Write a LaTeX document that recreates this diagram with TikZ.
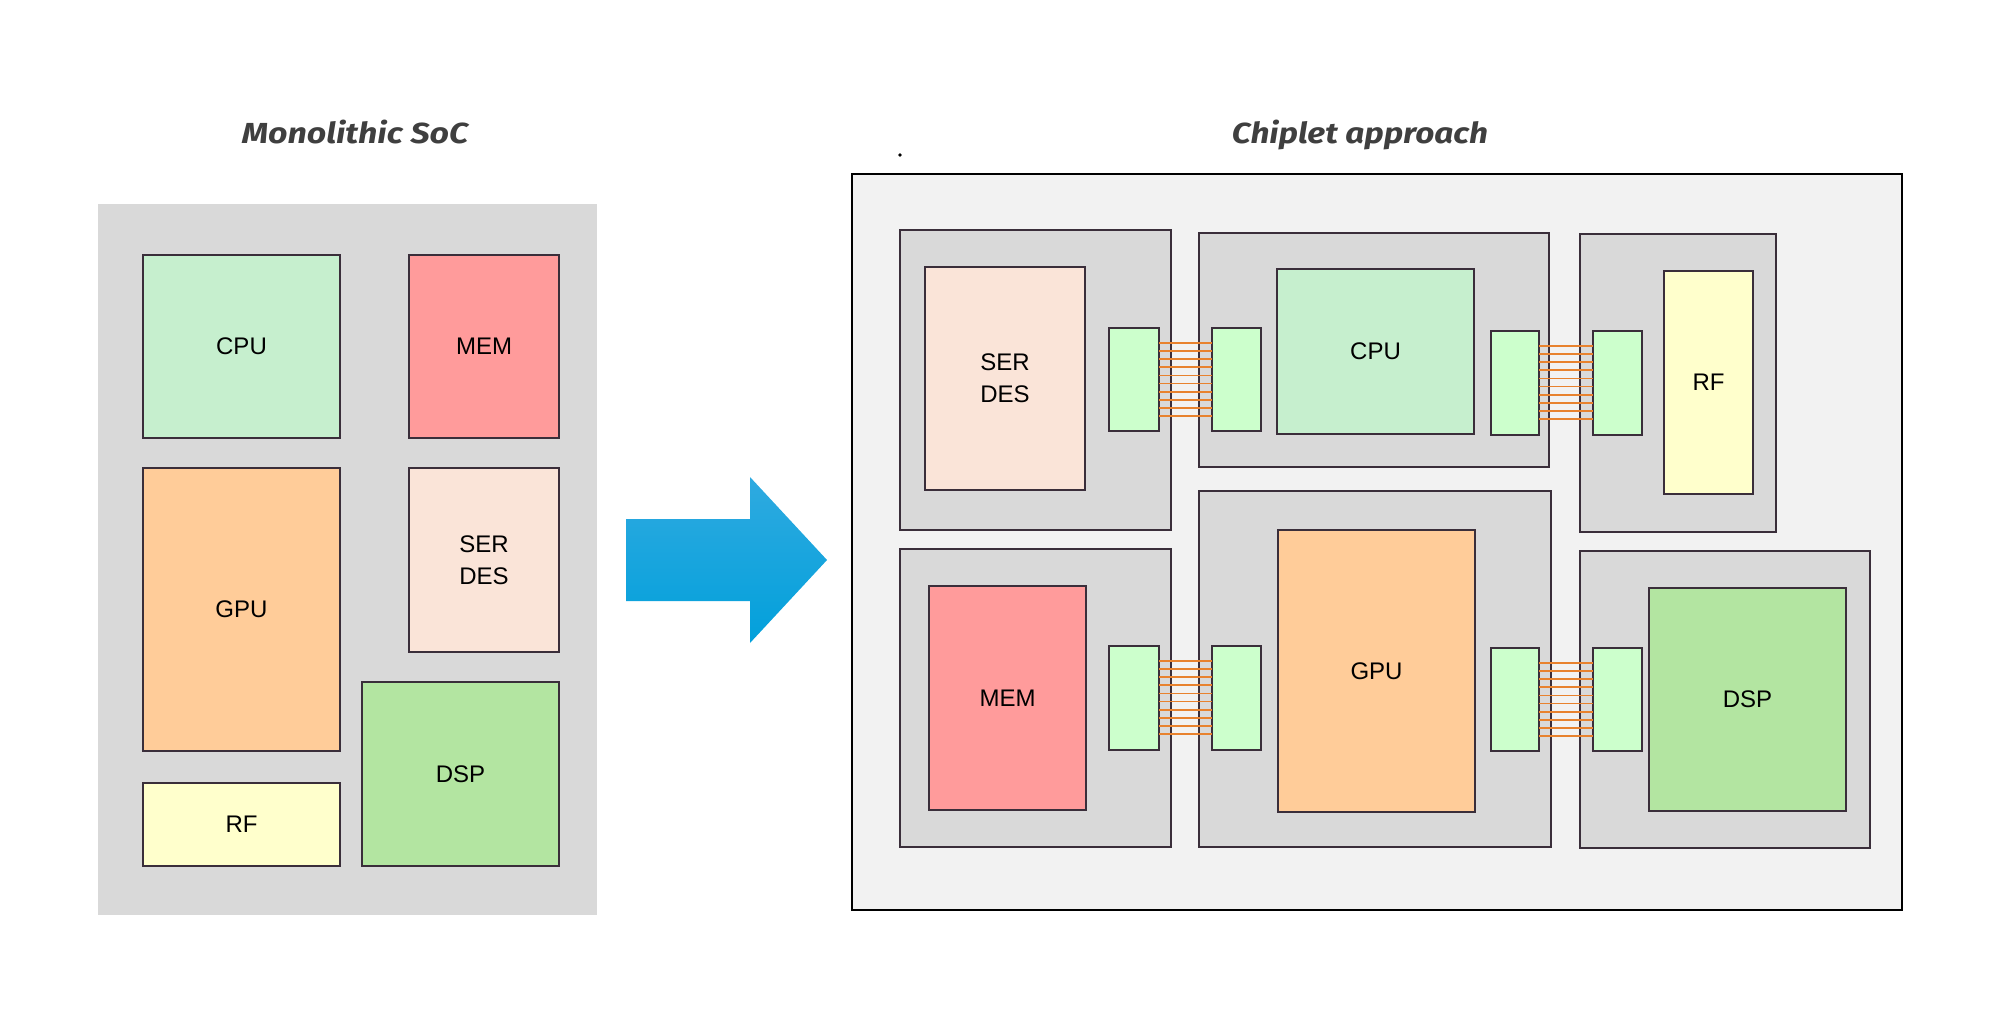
\documentclass[tikz,border=0pt]{standalone}
\usepackage{fontspec}
\setmainfont{Liberation Sans}
\newfontfamily\titlefont{Fira Sans}
\usetikzlibrary{calc}
\definecolor{bord}{HTML}{3A2E3A}
\definecolor{panelgray}{HTML}{D9D9D9}
\definecolor{panellight}{HTML}{F2F2F2}
\definecolor{cpuc}{HTML}{C6EFCE}
\definecolor{memc}{HTML}{FF9B9B}
\definecolor{gpuc}{HTML}{FFCC99}
\definecolor{serc}{HTML}{FAE4D8}
\definecolor{dspc}{HTML}{B3E5A1}
\definecolor{rfc}{HTML}{FFFFCC}
\definecolor{phyc}{HTML}{CCFFCC}
\definecolor{wirec}{HTML}{E8822E}
\definecolor{titlec}{HTML}{3F3F3F}
\definecolor{arrtop}{HTML}{2FAAE0}
\definecolor{arrbot}{HTML}{02A0DB}
\newcommand\mkbox[7]{%
  \node[#1, minimum width={(#5-#3)*1pt}, minimum height={(#6-#4)*1pt}] (#2) at (#3,#4) {#7};}
\begin{document}
\begin{tikzpicture}[x=1pt,y=-1pt,
  base/.style={inner sep=0pt, outer sep=0pt, anchor=north west, align=center,
    font=\fontsize{24}{32}\selectfont, text=black},
  blk/.style={base, draw=bord, line width=1.2pt},
  chip/.style={base, draw=bord, line width=1.2pt, fill=panelgray},
  phy/.style={base, draw=bord, line width=1.2pt, fill=phyc},
  wire/.style={draw=wirec, line width=1.8pt},
  title/.style={font=\titlefont\fontsize{29}{32}\selectfont\bfseries\itshape, text=titlec, anchor=base}]
\useasboundingbox (0,0) rectangle (1996,1011);
% titles
\node[title] (t1) at (355,144) {\scalebox{1.17}[1]{Monolithic SoC}};
\node[title] (t2) at (1360,144) {\scalebox{1.15}[1]{Chiplet approach}};
% left panel
\mkbox{base, fill=panelgray}{lp}{98}{204}{597}{915}{}
\mkbox{blk, fill=cpuc}{lcpu}{143}{255}{340}{438}{CPU}
\mkbox{blk, fill=memc}{lmem}{409}{255}{559}{438}{MEM}
\mkbox{blk, fill=gpuc}{lgpu}{143}{468}{340}{751}{GPU}
\mkbox{blk, fill=serc}{lser}{409}{468}{559}{652}{SER\\DES}
\mkbox{blk, fill=dspc}{ldsp}{362}{682}{559}{866}{DSP}
\mkbox{blk, fill=rfc}{lrf}{143}{783}{340}{866}{RF}
% arrow
\shade[top color=arrtop, bottom color=arrbot]
  (626,519) -- (750,519) -- (750,477) -- (827,560) -- (750,643) -- (750,601) -- (626,601) -- cycle;
% dot
\fill[black] (900,155) circle (1.8);
% right panel
\mkbox{base, fill=panellight, draw=black, line width=1.3pt}{rp}{852}{174}{1902}{910}{}
\mkbox{chip}{c1}{900}{230}{1171}{530}{}
\mkbox{chip}{c2}{1199}{233}{1549}{467}{}
\mkbox{chip}{c3}{1580}{234}{1776}{532}{}
\mkbox{chip}{c4}{900}{549}{1171}{847}{}
\mkbox{chip}{c5}{1199}{491}{1551}{847}{}
\mkbox{chip}{c6}{1580}{551}{1870}{848}{}
\mkbox{blk, fill=serc}{rser}{925}{267}{1085}{490}{SER\\DES}
\mkbox{blk, fill=cpuc}{rcpu}{1277}{269}{1474}{434}{CPU}
\mkbox{blk, fill=rfc}{rrf}{1664}{271}{1753}{494}{RF}
\mkbox{blk, fill=memc}{rmem}{929}{586}{1086}{810}{MEM}
\mkbox{blk, fill=gpuc}{rgpu}{1278}{530}{1475}{812}{GPU}
\mkbox{blk, fill=dspc}{rdsp}{1649}{588}{1846}{811}{DSP}
% PHY blocks
\mkbox{phy}{p1}{1109}{328}{1159}{431}{}
\mkbox{phy}{p2}{1212}{328}{1261}{431}{}
\mkbox{phy}{p3}{1491}{331}{1539}{435}{}
\mkbox{phy}{p4}{1593}{331}{1642}{435}{}
\mkbox{phy}{p5}{1109}{646}{1159}{750}{}
\mkbox{phy}{p6}{1212}{646}{1261}{750}{}
\mkbox{phy}{p7}{1491}{648}{1539}{751}{}
\mkbox{phy}{p8}{1593}{648}{1642}{751}{}
% wires
\foreach \a/\b in {p1/p2,p3/p4,p5/p6,p7/p8}{
  \foreach \i in {0,...,9}{
    \draw[wire] ($(\a.north east)+(0,15+8.1*\i)$) coordinate (s) -- (s -| \b.west);
  }
}
\end{tikzpicture}
\end{document}
